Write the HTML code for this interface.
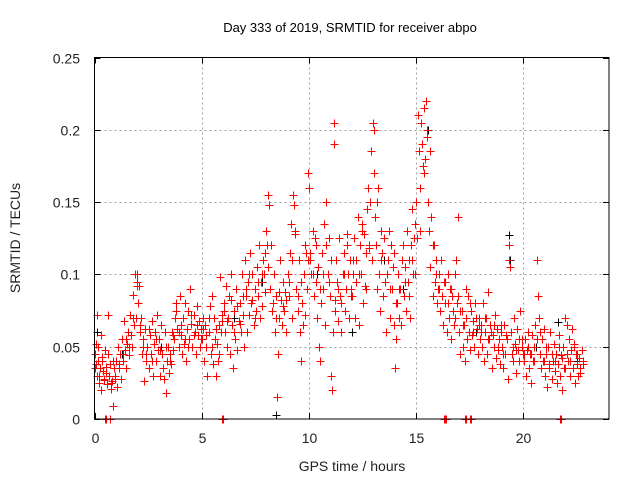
<!DOCTYPE html>
<html><head><meta charset="utf-8"><style>
body{margin:0;background:#fff}
svg{display:block;font-family:"Liberation Sans",sans-serif}
</style></head><body>
<svg id="chart" width="640" height="480">
<text x="350" y="32" font-size="13" text-anchor="middle">Day 333 of 2019, SRMTID for receiver abpo</text>
<text x="352" y="471" font-size="14" text-anchor="middle" fill="#222">GPS time / hours</text>
<text transform="translate(20,238) rotate(-90)" font-size="14" text-anchor="middle" fill="#222">SRMTID / TECUs</text>
<g id="grid"></g><g id="ticks"></g><g id="marks"></g>
<rect x="94.5" y="57.5" width="514.5" height="361.5" fill="none" stroke="#000"/>
</svg>
<script>
const xTicks=[0,5,10,15,20];
const yTicks=[0,0.05,0.1,0.15,0.2,0.25];
const yTickLabels=["0","0.05","0.1","0.15","0.2","0.25"];
const redT=[
0.02,0.05,0.08,0.1,0.13,0.17,0.2,0.24,0.28,0.31,0.35,0.4,0.44,0.48,0.52,0.57,0.62,0.67,0.72,0.78,0.83,0.88,0.93,0.97,
1.02,1.06,1.1,1.15,1.2,1.24,1.28,1.33,1.38,1.42,1.47,1.52,1.56,1.6,1.65,1.7,1.74,1.78,1.83,1.88,1.92,1.96,
2.0,2.04,2.08,2.12,2.17,2.22,2.27,2.32,2.37,2.42,2.47,2.52,2.57,2.62,2.67,2.72,2.78,2.83,2.88,2.93,2.97,
3.02,3.07,3.12,3.17,3.22,3.27,3.32,3.37,3.42,3.47,3.52,3.57,3.62,3.67,3.72,3.77,3.82,3.87,3.92,3.97,
4.02,4.07,4.12,4.17,4.22,4.27,4.32,4.37,4.42,4.47,4.52,4.57,4.62,4.67,4.72,4.77,4.82,4.87,4.92,4.97,
5.02,5.07,5.12,5.17,5.22,5.27,5.32,5.37,5.42,5.47,5.52,5.57,5.62,5.67,5.72,5.77,5.82,5.87,5.92,5.97,
6.02,6.07,6.12,6.17,6.22,6.27,6.32,6.37,6.42,6.47,6.52,6.57,6.62,6.67,6.72,6.77,6.82,6.87,6.92,6.97,
7.02,7.07,7.12,7.17,7.22,7.27,7.32,7.37,7.42,7.47,7.52,7.57,7.62,7.67,7.72,7.77,7.82,7.87,7.92,7.97,
8.02,8.07,8.1,8.15,8.2,8.25,8.3,8.35,8.4,8.45,8.5,8.55,8.6,8.65,8.7,8.75,8.8,8.85,8.9,8.95,
9.02,9.07,9.12,9.17,9.22,9.27,9.32,9.37,9.42,9.47,9.52,9.57,9.62,9.67,9.72,9.77,9.82,9.87,9.92,9.97,
10.02,10.07,10.12,10.17,10.22,10.27,10.32,10.37,10.42,10.47,10.52,10.57,10.62,10.67,10.72,10.77,10.82,10.87,10.92,10.97,
11.02,11.07,11.12,11.15,11.18,11.22,11.27,11.32,11.37,11.42,11.47,11.52,11.57,11.62,11.67,11.72,11.77,11.82,11.87,11.92,11.97,
12.02,12.07,12.12,12.17,12.22,12.27,12.32,12.37,12.42,12.47,12.52,12.57,12.62,12.67,12.72,12.77,12.82,12.87,12.92,12.97,
13.02,13.07,13.12,13.17,13.22,13.27,13.32,13.37,13.42,13.47,13.52,13.57,13.62,13.67,13.72,13.77,13.82,13.87,13.92,13.97,
14.02,14.07,14.12,14.17,14.22,14.27,14.32,14.37,14.42,14.47,14.52,14.57,14.62,14.67,14.72,14.77,14.82,14.87,14.92,14.97,
15.02,15.07,15.12,15.17,15.22,15.27,15.32,15.37,15.42,15.47,15.52,15.57,15.62,15.67,15.72,15.77,15.82,15.87,15.92,15.97,
16.02,16.07,16.12,16.17,16.22,16.27,16.32,16.37,16.42,16.47,16.52,16.57,16.62,16.67,16.72,16.77,16.82,16.87,16.92,16.97,
17.02,17.07,17.12,17.17,17.22,17.27,17.32,17.37,17.42,17.47,17.52,17.57,17.62,17.67,17.72,17.77,17.82,17.87,17.92,17.97,
18.02,18.07,18.12,18.17,18.22,18.27,18.32,18.37,18.42,18.47,18.52,18.57,18.62,18.67,18.72,18.77,18.82,18.87,18.92,18.97,
19.02,19.07,19.12,19.17,19.22,19.27,19.32,19.37,19.42,19.47,19.52,19.57,19.62,19.67,19.72,19.77,19.82,19.87,19.92,19.97,
20.02,20.07,20.12,20.17,20.22,20.27,20.32,20.37,20.42,20.47,20.52,20.57,20.62,20.67,20.72,20.77,20.82,20.87,20.92,20.97,
21.02,21.07,21.12,21.17,21.22,21.27,21.32,21.37,21.42,21.47,21.52,21.57,21.62,21.67,21.72,21.77,21.82,21.87,21.92,21.97,
22.02,22.07,22.12,22.17,22.22,22.27,22.32,22.37,22.42,22.47,22.52,22.57,22.62,22.67,22.72,22.77,
0.5,0.55,0.7,5.95,6.0,16.3,16.35,16.4,17.3,17.35,17.5,17.55,21.7,21.75];
const redV=[
.045,.038,.052,.03,.072,.04,.025,.035,.058,.02,.043,.033,.028,.048,.036,.024,.072,.03,.038,.021,.026,.009,.035,.028,
.04,.022,.05,.035,.045,.028,.055,.04,.068,.048,.035,.052,.06,.044,.072,.058,.05,.086,.065,.1,.07,.092,
.1,.08,.092,.06,.07,.045,.055,.026,.062,.04,.05,.035,.058,.045,.068,.03,.052,.06,.04,.072,.048,
.055,.03,.065,.045,.028,.06,.018,.04,.05,.032,.045,.038,.06,.048,.055,.07,.08,.062,.05,.085,
.058,.045,.07,.052,.08,.04,.062,.075,.055,.09,.066,.05,.072,.06,.045,.078,.058,.068,.05,.062,
.055,.07,.04,.065,.05,.03,.06,.078,.045,.085,.038,.07,.055,.03,.052,.04,.065,.098,.06,.072,
.08,.06,.092,.05,.07,.085,.045,.1,.065,.035,.075,.055,.09,.048,.068,.08,.06,.1,.072,.05,
.11,.085,.06,.095,.072,.115,.08,.1,.065,.09,.075,.105,.085,.12,.07,.095,.078,.11,.1,.088,
.13,.105,.155,.148,.09,.12,.075,.1,.06,.085,.015,.045,.07,.11,.082,.065,.095,.075,.088,.06,
.1,.085,.115,.135,.07,.155,.148,.128,.09,.075,.11,.06,.04,.08,.065,.1,.072,.115,.09,.17,
.16,.115,.1,.13,.085,.125,.095,.07,.105,.05,.04,.08,.115,.09,.135,.065,.15,.1,.125,.085,
.03,.02,.06,.205,.19,.075,.11,.095,.068,.125,.085,.06,.1,.115,.075,.09,.128,.1,.07,.11,.09,
.085,.11,.125,.07,.095,.14,.065,.12,.1,.135,.08,.128,.092,.115,.145,.16,.118,.15,.185,.205,
.2,.14,.12,.09,.16,.1,.075,.13,.115,.085,.125,.095,.06,.11,.13,.07,.12,.09,.105,.065,
.035,.055,.08,.1,.07,.09,.065,.12,.085,.105,.075,.13,.095,.11,.07,.12,.145,.1,.125,.135,
.15,.21,.185,.16,.205,.19,.175,.215,.18,.22,.195,.15,.13,.105,.14,.085,.12,.095,.11,.08,
.09,.1,.075,.11,.085,.065,.095,.08,.06,.1,.07,.09,.055,.085,.075,.065,.1,.11,.08,.14,
.06,.045,.075,.05,.065,.04,.07,.055,.085,.06,.048,.075,.058,.068,.05,.08,.062,.045,.07,.055,
.065,.05,.08,.04,.06,.07,.045,.088,.055,.065,.035,.058,.05,.072,.042,.062,.048,.055,.038,.065,
.05,.035,.065,.045,.055,.028,.12,.105,.06,.045,.04,.07,.052,.032,.062,.048,.04,.075,.055,.045,
.04,.055,.03,.048,.06,.035,.045,.025,.058,.04,.05,.065,.11,.085,.07,.045,.035,.055,.04,.062,
.03,.045,.022,.05,.038,.06,.028,.04,.052,.033,.045,.025,.038,.058,.03,.044,.02,.05,.035,.07,
.065,.04,.055,.03,.048,.062,.035,.052,.025,.045,.038,.03,.042,.035,.048,.038,
0,0,0,0,0,0,0,0,0,0,0,0,0,0];
const redT2=[
0.04,0.14,0.22,0.33,0.42,0.55,0.65,0.75,0.85,0.95,1.13,1.31,1.45,1.63,1.81,1.98,2.1,2.25,2.4,2.55,2.7,2.85,3.05,3.2,3.35,3.5,3.65,3.8,3.95,
4.05,4.2,4.35,4.5,4.65,4.8,4.95,5.05,5.2,5.35,5.5,5.65,5.8,5.95,6.05,6.2,6.35,6.5,6.65,6.8,6.95,7.05,7.2,7.35,7.5,7.65,7.8,7.95,
8.05,8.18,8.33,8.48,8.62,8.78,8.92,9.05,9.2,9.35,9.5,9.65,9.8,9.95,10.05,10.2,10.35,10.5,10.65,10.8,10.95,11.05,11.2,11.35,11.5,11.65,11.8,11.95,
12.05,12.2,12.35,12.5,12.65,12.8,12.95,13.05,13.2,13.35,13.5,13.65,13.8,13.95,14.05,14.2,14.35,14.5,14.65,14.8,14.95,15.05,15.2,15.35,15.5,15.65,15.8,15.95,
16.05,16.2,16.35,16.5,16.65,16.8,16.95,17.05,17.2,17.35,17.5,17.65,17.8,17.95,18.05,18.2,18.35,18.5,18.65,18.8,18.95,19.05,19.2,19.35,19.5,19.65,19.8,19.95,
20.05,20.2,20.35,20.5,20.65,20.8,20.95,21.05,21.2,21.35,21.5,21.65,21.8,21.95,22.05,22.2,22.35,22.5,22.65,22.8];
const redV2=[
.035,.05,.03,.04,.027,.032,.045,.025,.04,.03,.038,.045,.055,.05,.07,.095,.065,.05,.045,.062,.04,.055,.048,.035,.05,.04,.058,.075,.06,
.065,.055,.05,.072,.058,.065,.055,.062,.058,.07,.05,.062,.045,.068,.075,.068,.082,.06,.078,.066,.085,.09,.1,.082,.07,.095,.1,.115,
.12,.09,.08,.07,.088,.078,.082,.095,.11,.13,.085,.095,.12,.11,.11,.1,.12,.09,.1,.12,.095,.11,.082,.09,.08,.1,.12,.085,.1,
.11,.1,.13,.09,.12,.11,.17,.15,.11,.125,.1,.09,.115,.08,.09,.11,.095,.085,.11,.1,.125,.13,.17,.2,.185,.12,.1,.09,
.085,.095,.08,.09,.07,.085,.075,.065,.09,.08,.06,.07,.065,.06,.07,.055,.06,.065,.05,.06,.045,.058,.11,.05,.048,.055,.05,.045,
.05,.045,.04,.055,.06,.04,.05,.035,.045,.04,.05,.042,.035,.045,.04,.05,.045,.032,.04,.035];
const blackT=[0.1,1.3,3.1,6.5,7.8,8.45,9.7,10.4,12.0,13.5,14.4,15.55,16.2,17.8,19.35,19.4,20.6,21.6,22.5];
const blackV=[.06,.045,.05,.07,.095,.003,.08,.1,.06,.11,.09,.2,.085,.06,.127,.11,.05,.067,.04];
const X0=94.5,X1=609,Y0=419,Y1=57.5;
function sx(v){return X0+v/24*(X1-X0);}
function sy(v){return Y0-v/0.25*(Y0-Y1);}
const NS="http://www.w3.org/2000/svg";
const grid=document.getElementById('grid'),ticks=document.getElementById('ticks'),marks=document.getElementById('marks');
function mk(tag,attrs,parent){const e=document.createElementNS(NS,tag);for(const k in attrs)e.setAttribute(k,attrs[k]);parent.appendChild(e);return e;}
xTicks.forEach(function(v){
  const x=Math.round(sx(v))+0.5;
  if(v>0){const g=mk('line',{x1:x,x2:x,y1:Y1,y2:Y0,stroke:'#a0a0a0','stroke-dasharray':'2,3'},grid);
  
  }
  const t=mk('path',{d:'M'+x+' '+Y0+'v-6M'+x+' '+Y1+'v6',stroke:'#000'},ticks);
  
  
  const l=mk('text',{x:x,y:443,'font-size':'14','text-anchor':'middle',fill:'#222'},ticks);
  l.textContent=String(v);
  
  
});
yTicks.forEach(function(v,i){
  const y=Math.round(sy(v))+0.5;
  if(v>0&&v<0.25){const g=mk('line',{x1:X0,x2:X1,y1:y,y2:y,stroke:'#a0a0a0','stroke-dasharray':'2,3'},grid);
  
  }
  const t=mk('path',{d:'M'+X0+' '+y+'h6M'+X1+' '+y+'h-6',stroke:'#000'},ticks);
  
  
  const l=mk('text',{x:80,y:y+5,'font-size':'14','text-anchor':'end',fill:'#222'},ticks);
  l.textContent=yTickLabels[i];
  
  
});
function plus(t,v,color,name){
  const x=Math.round(sx(t))+0.5,y=Math.round(sy(v))+0.5;
  const p=mk('path',{d:'M'+(x-4)+' '+y+'h8M'+x+' '+(y-4)+'v8',stroke:color,'stroke-width':1,fill:'none'},marks);
  
  
}
for(let i=0;i<blackT.length;i++)plus(blackT[i],blackV[i],'#000','black-point');
for(let i=0;i<redT.length;i++)plus(redT[i],redV[i],'#ff0000','red-point');
for(let i=0;i<redT2.length;i++)plus(redT2[i],redV2[i],'#ff0000','red-point');
</script>
</body></html>
